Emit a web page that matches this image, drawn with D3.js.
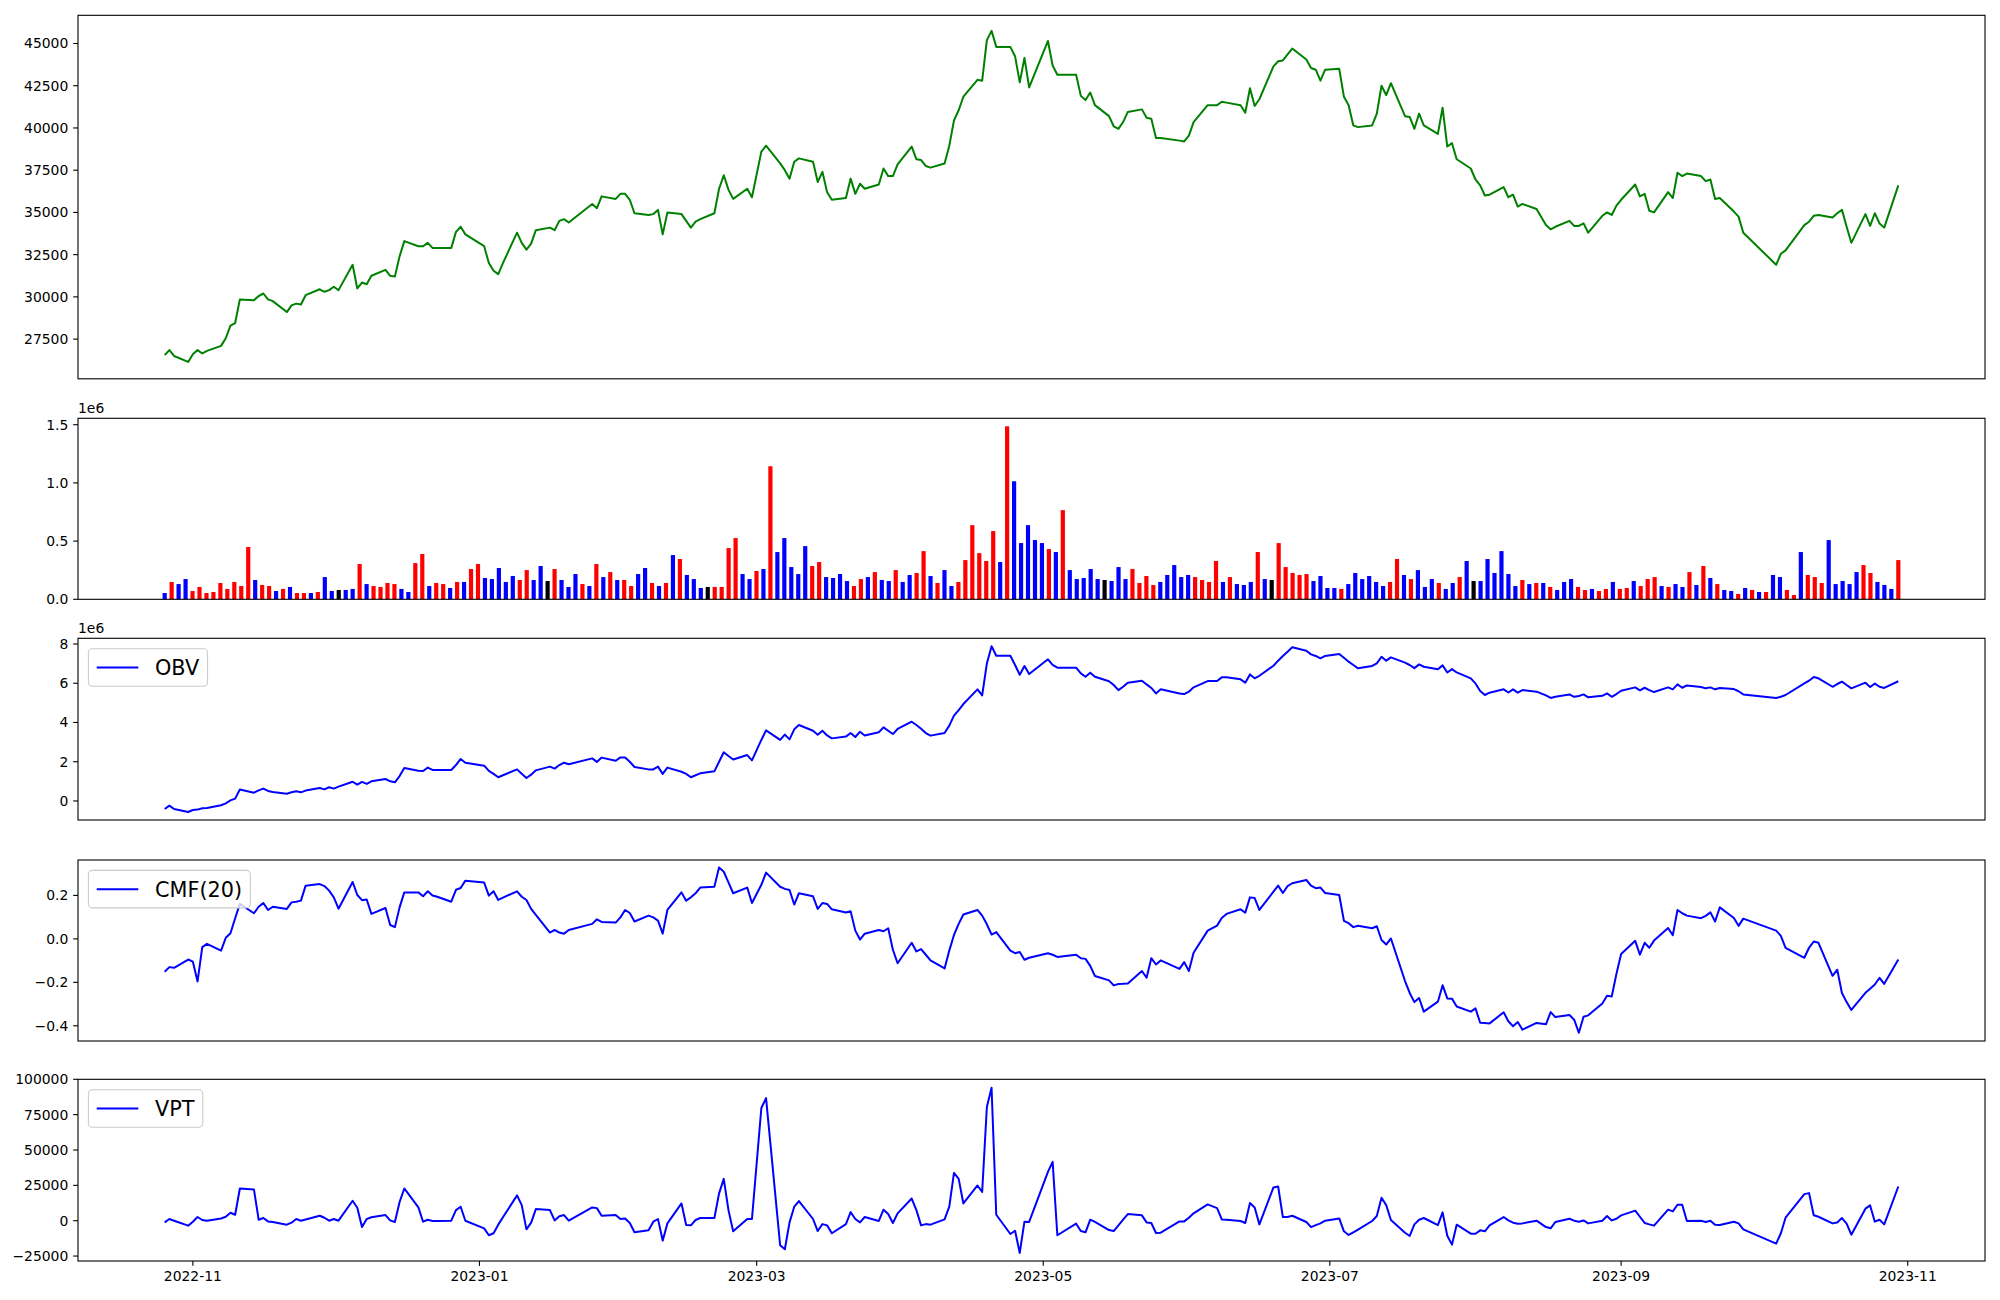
<!DOCTYPE html>
<html><head><meta charset="utf-8">
<script src="https://cdn.jsdelivr.net/npm/d3@7"></script>
<style>
body{margin:0;background:#fff}
svg{display:block}
text{font-family:"DejaVu Sans",sans-serif}
</style>
</head><body>
<svg id="chart" width="2000" height="1300"></svg>
<script>
// ---------- DATA (one row per month of trading days) ----------
const tradingDays = [
 ["2022-10",[26,27,28,31]],
 ["2022-11",[1,2,3,4,7,8,9,10,11,14,15,16,17,18,21,22,23,24,25,28,29,30]],
 ["2022-12",[1,2,5,6,7,8,9,12,13,14,15,16,19,20,21,22,23,26,27,28,29]],
 ["2023-01",[2,3,4,5,6,9,10,11,12,13,16,17,18,19,20,25,26,27,30,31]],
 ["2023-02",[1,2,3,6,7,8,9,10,13,14,15,16,17,20,21,22,23,24,27,28]],
 ["2023-03",[2,3,6,7,8,9,10,13,14,15,16,17,20,21,22,23,24,27,28,29,30,31]],
 ["2023-04",[3,4,5,6,7,10,11,12,13,14,17,18,19,20,21,24,25,26,27,28]],
 ["2023-05",[2,3,4,8,9,10,11,12,15,16,17,18,19,22,23,24,25,26,30,31]],
 ["2023-06",[1,2,5,7,8,9,12,13,14,15,16,19,20,21,22,23,26,27,28,29,30]],
 ["2023-07",[3,4,5,6,7,10,11,12,13,14,17,18,19,20,21,24,25,26,27,28,31]],
 ["2023-08",[1,2,3,4,7,8,9,10,11,14,16,17,18,21,22,23,24,25,28,29,30,31]],
 ["2023-09",[1,4,5,6,7,8,11,12,13,14,15,18,19,20,21,22,25,26,27]],
 ["2023-10",[4,5,6,10,11,12,13,16,17,18,19,20,23,24,25,26,27,30]]
];

const closePrice = [
 [26550,26850,26500,26150],
 [26600,26850,26650,26800,27100,27550,28300,28450,29850,29800,30050,30200,29850,29750,29100,29500,29600,29550,30100,30450,30300,30400],
 [30600,30400,31900,30500,30850,30750,31250,31600,31250,31200,32400,33300,33000,33000,33200,32900,32900,32900,33850,34150,33700],
 [33000,32000,31550,31350,32000,33800,33200,32800,33150,33950,34100,33950,34500,34600,34400,35500,35250,35950,35800,36100],
 [36100,35750,34950,34850,34900,35150,33700,35000,34900,34500,34100,34450,34600,34950,36400,37200,36350,35800,36400,35900],
 [38600,38950,37900,37500,37000,38000,38200,38000,36800,37400,36200,35750,35850,37000,36100,36700,36400,36650,37600,37150,37150,37850],
 [38900,38150,38100,37750,37650,37900,38950,40450,41050,41850,42850,42800,45200,45750,44800,44800,44250,42700,44150,42400],
 [45150,43700,43150,43150,41900,41650,42100,41350,40700,40100,39950,40350,40950,41100,40600,40550,39400,39400,39250,39200],
 [39550,40350,41350,41350,41550,41500,41350,40900,42350,41300,41700,43650,43950,44000,44350,44700,44050,43550,43450,42800,43450],
 [43500,41850,41350,40150,40050,40150,40850,42500,41950,42650,40700,40650,39950,40850,40150,39650,41200,38900,39100,38150,37600],
 [36950,36600,36000,36050,36500,35900,36050,35350,35500,35200,34250,34000,34150,34500,34200,34200,34350,33800,34800,35000,34850,35400],
 [35750,36650,35950,36100,35100,35000,36200,35850,37350,37150,37300,37150,36850,36950,35800,35850,35050,34750,33800],
 [31900,32550,32750,34250,34450,34800,34850,34700,34950,35150,34150,33200,34900,34200,34950,34350,34100,36600]
];

// volume in thousands of shares
const volumeK = [
 [54,149,131,174],
 [71,106,54,63,140,89,149,114,449,166,123,114,71,89,106,54,54,54,63,191,71,80],
 [80,89,303,131,114,106,140,131,89,63,311,389,114,140,131,97,149,149,260,303,183],
 [174,269,149,200,166,251,166,286,157,260,166,106,217,131,114,303,191,234,166,166],
 [114,217,269,140,114,140,380,346,209,174,97,106,106,106,440,526,217,174,243,260],
 [1143,406,526,277,217,457,286,320,191,183,217,157,114,174,191,234,166,157,251,149,209,226],
 [414,200,140,251,114,149,337,637,397,329,586,320,1486,1014,483,637,509,483,431,406],
 [766,251,174,183,260,174,166,157,277,174,260,140,200,123,149,209,294,191,209,191],
 [166,149,329,149,191,131,123,149,406,174,166,483,277,226,209,217,157,200,97,97,89],
 [131,226,174,200,149,114,149,346,209,174,251,106,174,140,89,140,191,329,157,157,346],
 [226,414,217,114,166,131,140,140,106,80,149,174,106,80,89,71,89,149,89,97,157,114],
 [174,191,114,106,131,106,234,123,286,183,131,80,71,46,97,80,63,63,209],
 [191,80,37,406,209,191,140,509,131,157,131,234,294,226,149,123,89,337]
];

// candle direction: u = up (red), d = down (blue), f = flat (black)
const candleDir = [
 "dudd",
 "uuuuu uuuud uudud uudud df",
 "ddudu uuudd uuduu duduu d",
 "ddddu uddfu dddud ududu",
 "uddud ududd dfuuu uddud",
 "udddd duudd dduud uddud du",
 "ududd uuuuu ududd dddud",
 "udddd dfddd uuuud ddddu",
 "uuudu dddud fuuuu udddd u",
 "ddddd duudu dddud dudfd d",
 "ddddu dudud dduud uuduu du",
 "uudud dudud uddud udud",
 "duudu uuddd dduud ddu"
];

// OBV in millions
const obvM = [
 [-0.41,-0.24,-0.41,-0.56],
 [-0.46,-0.44,-0.37,-0.36,-0.22,-0.12,0.03,0.12,0.58,0.42,0.54,0.63,0.51,0.46,0.37,0.44,0.49,0.44,0.53,0.66,0.59,0.70],
 [0.63,0.73,0.98,0.83,0.97,0.87,1.00,1.12,1.00,0.95,1.27,1.68,1.54,1.53,1.70,1.58,1.58,1.58,1.83,2.14,1.95],
 [1.80,1.53,1.38,1.21,1.31,1.61,1.39,1.17,1.34,1.56,1.75,1.65,1.83,1.95,1.87,2.17,1.99,2.21,2.05,2.22],
 [2.22,2.00,1.73,1.61,1.61,1.75,1.38,1.70,1.49,1.38,1.21,1.31,1.41,1.51,2.00,2.48,2.29,2.11,2.34,2.07],
 [3.11,3.60,3.11,3.38,3.14,3.65,3.87,3.58,3.38,3.58,3.34,3.19,3.28,3.46,3.26,3.53,3.34,3.50,3.75,3.58,3.41,3.67],
 [4.04,3.87,3.68,3.46,3.33,3.46,3.84,4.35,4.63,4.94,5.69,5.38,7.01,7.89,7.40,7.40,6.93,6.43,6.88,6.47],
 [7.22,6.93,6.79,6.79,6.50,6.33,6.54,6.33,6.10,5.91,5.65,5.82,6.03,6.13,5.94,5.76,5.48,5.69,5.48,5.45],
 [5.57,5.79,6.11,6.11,6.30,6.30,6.20,6.03,6.45,6.25,6.38,6.89,7.15,7.39,7.61,7.83,7.66,7.47,7.39,7.27,7.39],
 [7.49,7.30,7.10,6.93,6.76,6.88,7.01,7.35,7.15,7.32,7.05,6.93,6.77,6.96,6.84,6.71,6.91,6.55,6.72,6.55,6.25],
 [5.99,5.60,5.40,5.52,5.69,5.53,5.69,5.52,5.65,5.57,5.38,5.25,5.31,5.43,5.31,5.35,5.43,5.28,5.36,5.48,5.31,5.45],
 [5.62,5.79,5.64,5.77,5.65,5.55,5.79,5.69,5.94,5.77,5.89,5.81,5.74,5.79,5.69,5.76,5.70,5.59,5.43],
 [5.25,5.31,5.40,5.99,6.13,6.32,6.25,5.82,5.96,6.08,5.91,5.74,6.03,5.81,5.98,5.82,5.76,6.10]
];

const cmf20 = [
 [-0.151,-0.130,-0.133,-0.095],
 [-0.105,-0.196,-0.038,-0.023,-0.054,0.005,0.026,0.095,0.161,0.118,0.148,0.165,0.133,0.148,0.138,0.168,0.171,0.176,0.245,0.252,0.243,0.222],
 [0.191,0.139,0.262,0.202,0.178,0.181,0.115,0.142,0.064,0.054,0.145,0.214,0.214,0.196,0.219,0.200,0.194,0.171,0.226,0.234,0.268],
 [0.259,0.199,0.219,0.179,0.190,0.219,0.194,0.179,0.138,0.110,0.029,0.041,0.029,0.024,0.041,0.069,0.090,0.078,0.075,0.099],
 [0.133,0.119,0.080,0.107,0.099,0.084,0.024,0.133,0.214,0.176,0.191,0.210,0.236,0.240,0.329,0.309,0.260,0.210,0.236,0.165],
 [0.249,0.305,0.240,0.230,0.225,0.158,0.210,0.196,0.138,0.165,0.161,0.136,0.121,0.127,0.038,-0.003,0.024,0.041,0.035,0.049,-0.050,-0.112],
 [-0.018,-0.058,-0.047,-0.073,-0.099,-0.136,-0.054,0.018,0.069,0.112,0.133,0.107,0.067,0.020,0.031,-0.054,-0.066,-0.060,-0.096,-0.087],
 [-0.066,-0.073,-0.083,-0.073,-0.089,-0.092,-0.124,-0.171,-0.191,-0.214,-0.208,-0.207,-0.205,-0.148,-0.179,-0.089,-0.118,-0.099,-0.138,-0.107],
 [-0.148,-0.064,0.038,0.061,0.096,0.115,0.136,0.121,0.191,0.188,0.133,0.217,0.245,0.211,0.243,0.256,0.271,0.245,0.233,0.236,0.211],
 [0.202,0.083,0.072,0.054,0.060,0.049,0.058,-0.005,-0.026,0.002,-0.194,-0.249,-0.291,-0.272,-0.335,-0.289,-0.213,-0.274,-0.275,-0.311,-0.335],
 [-0.320,-0.386,-0.387,-0.389,-0.338,-0.379,-0.402,-0.383,-0.418,-0.387,-0.393,-0.337,-0.360,-0.350,-0.372,-0.432,-0.358,-0.352,-0.297,-0.262,-0.265,-0.161],
 [-0.070,-0.009,-0.073,-0.018,-0.041,-0.008,0.050,0.017,0.133,0.118,0.107,0.095,0.106,0.122,0.080,0.145,0.096,0.060,0.093],
 [0.038,0.014,-0.041,-0.087,-0.041,-0.012,-0.018,-0.170,-0.142,-0.249,-0.291,-0.327,-0.248,-0.230,-0.210,-0.179,-0.207,-0.095]
];

const vptValues = [
 [-1200,1200,0,-3500],
 [-700,2600,500,0,1600,2800,5600,4200,22800,22100,700,1900,-500,-900,-2800,-1400,1200,0,900,3500,2100,0],
 [1200,0,14100,9200,-4500,1200,2400,4000,200,-900,13200,22800,9400,-700,700,-200,-200,0,7500,9900,0],
 [-5400,-10300,-8900,-2800,2400,17900,11000,-6100,-1400,8200,7500,200,3100,4000,0,9400,8900,3500,4000,1200],
 [1600,-1600,-8200,-6800,-700,1200,-14100,-1900,12200,-3100,-3300,500,1900,1900,19300,29600,7500,-7500,1200,1200],
 [79700,86700,-17400,-20200,-1200,9900,13900,1200,-7300,-2400,-3300,-8900,-2400,6100,1200,-1200,2600,-200,7800,4700,-1600,5200],
 [15700,7500,-3300,-2400,-2800,900,9900,33800,29600,12200,24900,20400,80400,94000,4200,-9400,-7100,-22800,-700,-900],
 [34500,41600,-10300,-2100,-7300,-8200,700,-900,-6600,-7300,-3300,700,4700,3800,-1200,-1600,-8700,-8500,-500,-500],
 [2100,5200,11500,8900,900,700,-200,-1600,12500,9400,-2600,23500,24200,2600,2600,3500,-900,-4500,-3100,-1900,0],
 [1600,-7500,-10100,-8200,-6300,-200,3300,16200,11000,500,-8500,-10800,-2600,700,1900,-3100,5900,-10600,-16900,-2800,-9200],
 [-9200,-6800,-7500,-3300,2600,200,-1400,-2100,-1900,0,-4500,-5400,-900,1400,0,-700,200,-1900,0,3300,200,1400],
 [3800,7100,2800,-1600,-2600,-3500,7800,6600,11300,11300,-200,0,-900,0,-2800,-3100,-700,-1900,-6100],
 [-16200,-8900,2100,18800,19500,3800,2800,-1900,-1200,1900,-2100,-9900,8500,10800,-700,700,-2600,24200]
];

const priceTicks = [27500,30000,32500,35000,37500,40000,42500,45000];
const volumeTicks = [0,500000,1000000,1500000];
const volumeTickLabels = ["0.0","0.5","1.0","1.5"];
const obvTicks = [0,2e6,4e6,6e6,8e6];
const obvTickLabels = ["0","2","4","6","8"];
const cmfTicks = [-0.4,-0.2,0,0.2];
const cmfTickLabels = ["\u22120.4","\u22120.2","0.0","0.2"];
const vptTicks = [-25000,0,25000,50000,75000,100000];
const vptTickLabels = ["\u221225000","0","25000","50000","75000","100000"];
const xTickDates = ["2022-11-01","2023-01-01","2023-03-01","2023-05-01","2023-07-01","2023-09-01","2023-11-01"];
const xTickLabels = ["2022-11","2023-01","2023-03","2023-05","2023-07","2023-09","2023-11"];

// ---------- PREP ----------
const parse = d3.timeParse("%Y-%m-%d");
const dates = tradingDays.flatMap(([m, days]) => days.map(d => parse(m + "-" + String(d).padStart(2, "0"))));
function flatten(name, months) {
  months.forEach((a, i) => {
    if (a.length !== tradingDays[i][1].length)
      throw new Error(name + " " + tradingDays[i][0] + ": " + a.length + " vs " + tradingDays[i][1].length);
  });
  return months.flat();
}
const price = flatten("price", closePrice);
const volume = flatten("volume", volumeK).map(v => v * 1000);
const dir = flatten("dir", candleDir.map(s => s.replace(/\s/g, "").split("")));
const obv = flatten("obv", obvM).map(v => v * 1e6);
const cmf = flatten("cmf", cmf20);
const vpt = flatten("vpt", vptValues);
const n = dates.length;

// ---------- LAYOUT ----------
const L = 78, R = 1985;
const panels = [
  {top: 15.3, bottom: 378.8},
  {top: 418.3, bottom: 599.3},
  {top: 638.3, bottom: 820},
  {top: 860, bottom: 1041},
  {top: 1079.3, bottom: 1261}
];
const FS = 13.9, LFS = 20.8, TICK = 4.86, PAD = 4.86;

const svg = d3.select("#chart");
svg.append("rect").attr("width", 2000).attr("height", 1300).attr("fill", "#fff");

const t0 = dates[0], t1 = dates[n - 1], span = t1 - t0;
const x = d3.scaleTime()
  .domain([new Date(+t0 - 0.05 * span), new Date(+t1 + 0.05 * span)])
  .range([L, R]);
const xi = d3.scaleLinear().domain([0, n - 1]).range([x(t0), x(t1)]);

const yPrice = d3.scaleLinear().domain([25150, 46670]).range([panels[0].bottom, panels[0].top]);
const yVol = d3.scaleLinear().domain([0, 1555000]).range([panels[1].bottom, panels[1].top]);
const yObv = d3.scaleLinear().domain([-0.97e6, 8.29e6]).range([panels[2].bottom, panels[2].top]);
const yCmf = d3.scaleLinear().domain([-0.470, 0.363]).range([panels[3].bottom, panels[3].top]);
const yVpt = d3.scaleLinear().domain([-28500, 100000]).range([panels[4].bottom, panels[4].top]);

function yAxis(scale, ticks, labels) {
  const g = svg.append("g");
  ticks.forEach((t, i) => {
    const yy = scale(t);
    g.append("line").attr("x1", L - TICK).attr("x2", L).attr("y1", yy).attr("y2", yy)
      .attr("stroke", "#000").attr("stroke-width", 1.1);
    g.append("text").attr("x", L - TICK - PAD).attr("y", yy).attr("dy", "0.35em")
      .attr("text-anchor", "end").attr("font-size", FS).attr("fill", "#000")
      .text(labels ? labels[i] : String(t));
  });
}
function frame(p) {
  svg.append("rect").attr("x", L).attr("y", p.top).attr("width", R - L).attr("height", p.bottom - p.top)
    .attr("fill", "none").attr("stroke", "#000").attr("stroke-width", 1.1);
}
function drawLine(values, scale, color) {
  const line = d3.line().x((d, i) => x(dates[i])).y(d => scale(d));
  svg.append("path").datum(values).attr("d", line).attr("fill", "none")
    .attr("stroke", color).attr("stroke-width", 2).attr("stroke-linejoin", "round");
}
function legend(p, label) {
  const g = svg.append("g");
  const tmp = g.append("text").attr("font-size", LFS).text(label);
  const tw = tmp.node().getComputedTextLength();
  tmp.remove();
  const bx = L + 0.5 * LFS, by = p.top + 0.5 * LFS;
  const w = 3.6 * LFS + tw, h = 37.5;
  g.append("rect").attr("x", bx).attr("y", by).attr("width", w).attr("height", h)
    .attr("rx", 4).attr("fill", "#fff").attr("fill-opacity", 0.8)
    .attr("stroke", "#cccccc").attr("stroke-width", 1.1);
  const cy = by + h / 2;
  g.append("line").attr("x1", bx + 0.4 * LFS).attr("x2", bx + 2.4 * LFS).attr("y1", cy).attr("y2", cy)
    .attr("stroke", "#0000ff").attr("stroke-width", 2);
  g.append("text").attr("x", bx + 3.2 * LFS).attr("y", cy).attr("dy", "0.36em")
    .attr("font-size", LFS).attr("fill", "#000").text(label);
}
function offsetText(p, txt) {
  svg.append("text").attr("x", L).attr("y", p.top - 5).attr("font-size", FS).attr("fill", "#000").text(txt);
}

// ---------- PANEL 1: PRICE ----------
drawLine(price, yPrice, "#008000");
yAxis(yPrice, priceTicks);
frame(panels[0]);

// ---------- PANEL 2: VOLUME ----------
const barW = 0.6 * (xi(1) - xi(0));
const colorOf = {u: "#ff0000", d: "#0000ff", f: "#000000"};
svg.append("g").selectAll("rect").data(volume).join("rect")
  .attr("x", (d, i) => xi(i) - barW / 2)
  .attr("y", d => yVol(d))
  .attr("width", barW)
  .attr("height", d => yVol(0) - yVol(d))
  .attr("fill", (d, i) => colorOf[dir[i]]);
yAxis(yVol, volumeTicks, volumeTickLabels);
offsetText(panels[1], "1e6");
frame(panels[1]);

// ---------- PANEL 3: OBV ----------
drawLine(obv, yObv, "#0000ff");
yAxis(yObv, obvTicks, obvTickLabels);
offsetText(panels[2], "1e6");
legend(panels[2], "OBV");
frame(panels[2]);

// ---------- PANEL 4: CMF ----------
drawLine(cmf, yCmf, "#0000ff");
yAxis(yCmf, cmfTicks, cmfTickLabels);
legend(panels[3], "CMF(20)");
frame(panels[3]);

// ---------- PANEL 5: VPT ----------
drawLine(vpt, yVpt, "#0000ff");
yAxis(yVpt, vptTicks, vptTickLabels);
legend(panels[4], "VPT");
frame(panels[4]);

// bottom date axis
const xb = panels[4].bottom;
xTickDates.forEach((ds, i) => {
  const xx = x(parse(ds));
  svg.append("line").attr("x1", xx).attr("x2", xx).attr("y1", xb).attr("y2", xb + TICK)
    .attr("stroke", "#000").attr("stroke-width", 1.1);
  svg.append("text").attr("x", xx).attr("y", xb + TICK + PAD).attr("dy", "0.76em")
    .attr("text-anchor", "middle").attr("font-size", FS).attr("fill", "#000").text(xTickLabels[i]);
});
</script>
</body></html>
